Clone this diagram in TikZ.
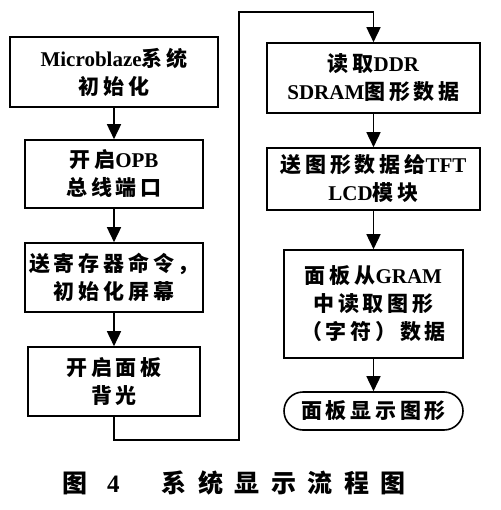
\documentclass[tikz,border=0pt]{standalone}
\usepackage{fontspec}
\setmainfont{Liberation Serif}
\newfontfamily\cjk{Noto Sans CJK SC}[LetterSpace=18]
\newfontfamily\cjkcap{Noto Sans CJK SC}[LetterSpace=46]
\newcommand\zh[1]{{\cjk #1}}
\usetikzlibrary{arrows.meta}
\tikzset{
  box/.style={draw=black, line width=1.6pt, fill=white, align=center, inner sep=0pt,
    font=\fontsize{21}{28}\selectfont\bfseries},
  term/.style={box, rounded corners=19pt},
  flow/.style={line width=1.6pt, -{Triangle[length=15pt,width=14pt]}},
  link/.style={line width=1.6pt}
}
\begin{document}
\begin{tikzpicture}[x=1pt,y=-1pt]
\useasboundingbox (0,0) rectangle (500,510);
% left column
\node[box, minimum width=208pt, minimum height=70pt] (b1) at (114,72) {Microblaze\zh{系统}\\\zh{初始化}};
\node[box, minimum width=178pt, minimum height=68pt] (b2) at (114,174) {\zh{开启}OPB\\\zh{总线端口}};
\node[box, minimum width=178pt, minimum height=69pt] (b3) at (114,277.5) {\zh{送寄存器命令，}\\\zh{初始化屏幕}};
\node[box, minimum width=172pt, minimum height=69pt] (b4) at (114,381.5) {\zh{开启面板}\\\zh{背光}};
% right column
\node[box, minimum width=213pt, minimum height=70pt] (b5) at (373.5,78) {\zh{读取}DDR\\SDRAM\zh{图形数据}};
\node[box, minimum width=213pt, minimum height=62pt] (b6) at (373.5,179) {\zh{送图形数据给}TFT\\LCD\zh{模块}};
\node[box, minimum width=179pt, minimum height=108pt] (b7) at (373.5,304) {\zh{面板从}GRAM\\\zh{中读取图形}\\\zh{（字符）数据}};
\node[term, minimum width=179pt, minimum height=38pt] (e) at (373.5,411) {\zh{面板显示图形}};
% connectors
\draw[flow] (b1) -- (b2);
\draw[flow] (b2) -- (b3);
\draw[flow] (b3) -- (b4);
\coordinate (p1) at (114,440);
\coordinate (p2) at (239,440);
\coordinate (p3) at (239,12);
\coordinate (p4) at (373.5,12);
\draw[flow] (b4.south) -- (p1) -- (p2) -- (p3) -- (p4) -- (b5.north);
\draw[flow] (b5) -- (b6);
\draw[flow] (b6) -- (b7);
\draw[flow] (b7) -- (e);
% caption
\node[anchor=west, inner sep=0pt, font=\fontsize{25}{30}\selectfont\bfseries] (cap) at (62,483)
  {{\cjkcap 图}\hspace{20pt}4\hspace{42pt}{\cjkcap 系统显示流程图}};
\end{tikzpicture}
\end{document}
